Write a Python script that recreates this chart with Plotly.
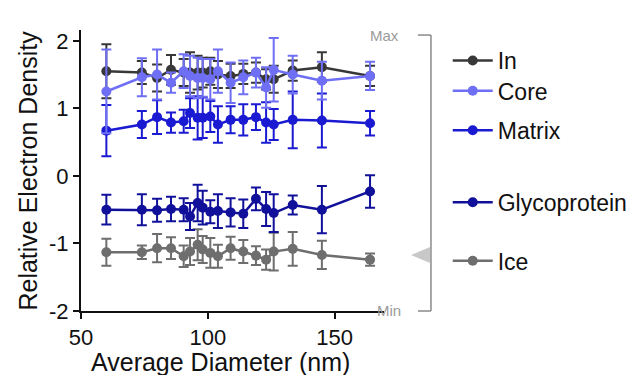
import plotly.graph_objects as go

# ---- data ----
diameter = [60, 74, 80, 85.5, 90.5, 93, 96, 98, 101, 104, 109, 114, 119, 123, 126, 133.5, 145, 164]

in_vals = [1.55, 1.53, 1.45, 1.57, 1.53, 1.53, 1.53, 1.53, 1.55, 1.50, 1.48, 1.51, 1.53, 1.43, 1.43, 1.56, 1.61, 1.48]
in_err = [0.40, 0.17, 0.20, 0.22, 0.20, 0.30, 0.25, 0.22, 0.20, 0.20, 0.18, 0.15, 0.15, 0.15, 0.20, 0.15, 0.22, 0.15]

core_vals = [1.25, 1.46, 1.50, 1.38, 1.55, 1.48, 1.45, 1.45, 1.43, 1.55, 1.38, 1.46, 1.53, 1.31, 1.57, 1.50, 1.41, 1.48]
core_err = [0.62, 0.28, 0.37, 0.15, 0.25, 0.30, 0.30, 0.28, 0.30, 0.32, 0.30, 0.25, 0.22, 0.30, 0.47, 0.28, 0.28, 0.21]

matrix_vals = [0.67, 0.76, 0.87, 0.79, 0.81, 0.93, 0.86, 0.86, 0.88, 0.76, 0.83, 0.83, 0.87, 0.79, 0.76, 0.83, 0.82, 0.78]
matrix_err = [0.38, 0.20, 0.25, 0.15, 0.17, 0.22, 0.32, 0.30, 0.23, 0.27, 0.20, 0.23, 0.19, 0.30, 0.23, 0.42, 0.40, 0.18]

glyco_vals = [-0.50, -0.50, -0.51, -0.49, -0.50, -0.60, -0.40, -0.47, -0.53, -0.52, -0.54, -0.56, -0.34, -0.49, -0.55, -0.43, -0.50, -0.23]
glyco_err = [0.22, 0.23, 0.17, 0.18, 0.17, 0.20, 0.27, 0.25, 0.17, 0.25, 0.21, 0.21, 0.17, 0.25, 0.28, 0.14, 0.35, 0.24]

ice_vals = [-1.13, -1.13, -1.07, -1.07, -1.19, -1.12, -1.02, -1.09, -1.14, -1.19, -1.07, -1.12, -1.18, -1.24, -1.12, -1.08, -1.17, -1.24]
ice_err = [0.20, 0.10, 0.21, 0.16, 0.16, 0.20, 0.23, 0.20, 0.22, 0.17, 0.17, 0.17, 0.14, 0.15, 0.28, 0.25, 0.21, 0.09]

y_tickvals = [-2, -1, 0, 1, 2]
y_ticktext = ["-2", "-1", "0", "1", "2"]
x_tickvals = [50, 100, 150]
x_ticktext = ["50", "100", "150"]

FONT = "Arial, Liberation Sans, sans-serif"
INK = "#111111"

series = [
    # name, values, errors, color, legend id, legend y (container fraction)
    ("Ice", ice_vals, ice_err, "#6e6e6e", "legend5", 0.326),
    ("Glycoprotein", glyco_vals, glyco_err, "#10109a", "legend4", 0.482),
    ("Matrix", matrix_vals, matrix_err, "#1a1ad2", "legend3", 0.674),
    ("In", in_vals, in_err, "#383838", "legend", 0.860),
    ("Core", core_vals, core_err, "#6f6ff5", "legend2", 0.779),
]

fig = go.Figure()
legend_layouts = {}
for name, vals, errs, color, lg, ly in series:
    fig.add_trace(go.Scatter(
        x=diameter, y=vals, name=name, mode="lines+markers",
        line=dict(color=color, width=2.5),
        marker=dict(color=color, size=10),
        error_y=dict(type="data", array=errs, visible=True, color=color, thickness=2, width=5),
        legend=lg,
    ))
    legend_layouts[lg] = dict(
        xref="container", yref="container",
        x=0.686, y=ly, xanchor="left", yanchor="middle",
        bgcolor="rgba(0,0,0,0)", borderwidth=0,
        font=dict(family=FONT, size=23, color=INK),
        itemwidth=40,
    )

axis_common = dict(showline=True, linecolor=INK, linewidth=2, ticks="outside",
                   ticklen=6, tickwidth=2, tickcolor=INK, showgrid=False, zeroline=False,
                   automargin=False, tickfont=dict(family=FONT, size=22, color=INK))

fig.update_layout(
    template="none",
    width=641, height=375,
    margin=dict(l=73, r=265, t=22, b=72, autoexpand=False),
    paper_bgcolor="white", plot_bgcolor="white",
    font=dict(family=FONT, size=22, color=INK),
    xaxis=dict(range=[50, 169.5], tickvals=x_tickvals, ticktext=x_ticktext, **axis_common),
    yaxis=dict(range=[-2, 2.16], tickvals=y_tickvals, ticktext=y_ticktext, **axis_common),
    showlegend=True,
    **legend_layouts,
)

# axis titles
fig.add_annotation(text="Average Diameter (nm)", xref="paper", yref="paper",
                   x=0.46, y=-0.183, xanchor="center", yanchor="middle",
                   showarrow=False, font=dict(family=FONT, size=25, color=INK))
fig.add_annotation(text="Relative Electron Density", xref="paper", yref="paper",
                   x=-0.178, y=0.5, xanchor="center", yanchor="middle", textangle=-90,
                   showarrow=False, font=dict(family=FONT, size=25, color=INK))

# Max / Min bracket
bx = 1.155
fig.add_shape(type="line", xref="paper", yref="paper", x0=bx, x1=bx, y0=0, y1=0.982,
              line=dict(color="#8a8a8a", width=1.5))
fig.add_shape(type="line", xref="paper", yref="paper", x0=1.112, x1=bx, y0=0.982, y1=0.982,
              line=dict(color="#8a8a8a", width=1.5))
fig.add_shape(type="line", xref="paper", yref="paper", x0=1.112, x1=bx, y0=0, y1=0,
              line=dict(color="#8a8a8a", width=1.5))
fig.add_shape(type="path", xref="paper", yref="paper",
              path="M 1.089 0.199 L 1.152 0.228 L 1.152 0.171 Z",
              fillcolor="#c8c8c8", line=dict(width=0))
fig.add_annotation(text="Max", xref="paper", yref="paper", x=1.056, y=1.018,
                   showarrow=False, font=dict(family=FONT, size=15, color="#9a9a9a"))
fig.add_annotation(text="Min", xref="paper", yref="paper", x=1.064, y=-0.036,
                   showarrow=False, font=dict(family=FONT, size=15, color="#9a9a9a"))

fig.write_html("out.html")
